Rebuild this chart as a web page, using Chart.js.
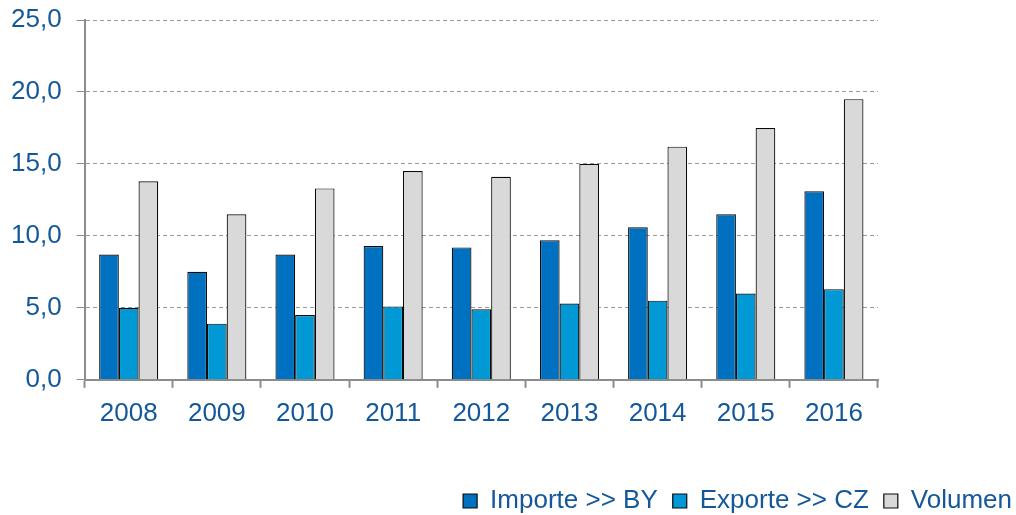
<!DOCTYPE html>
<html>
<head>
<meta charset="utf-8">
<script src="https://cdn.jsdelivr.net/npm/chart.js@4"></script>
<style>
  html, body { margin: 0; padding: 0; background: #ffffff; }
  #wrap { width: 1016px; height: 515px; }
</style>
</head>
<body>
<div id="wrap"><canvas id="c" width="1016" height="515"></canvas></div>
<script>
const categories = ['2008', '2009', '2010', '2011', '2012', '2013', '2014', '2015', '2016'];
const importe = [8.7, 7.5, 8.7, 9.3, 9.2, 9.7, 10.6, 11.5, 13.1];
const exporte = [5.0, 3.9, 4.5, 5.1, 4.9, 5.3, 5.5, 6.0, 6.3];
const volumen = [13.8, 11.5, 13.3, 14.5, 14.1, 15.0, 16.2, 17.5, 19.5];
const seriesNames = ['Importe >> BY', 'Exporte >> CZ', 'Volumen'];
const yTicks = [0, 5, 10, 15, 20, 25];

const textColor = '#14589a';
const font = { family: '"Liberation Sans", Arial, sans-serif', size: 26 };

new Chart(document.getElementById('c'), {
  type: 'bar',
  data: {
    labels: categories,
    datasets: [
      { label: seriesNames[0], data: importe, backgroundColor: '#0070c0', borderColor: '#0a0a0a', borderWidth: 1.2 },
      { label: seriesNames[1], data: exporte, backgroundColor: '#0099d6', borderColor: '#0a0a0a', borderWidth: 1.2 },
      { label: seriesNames[2], data: volumen, backgroundColor: '#d9d9d9', borderColor: '#0a0a0a', borderWidth: 1.2 }
    ]
  },
  options: {
    responsive: false,
    animation: false,
    devicePixelRatio: 1,
    layout: { padding: { top: 20, left: -4, right: -11, bottom: -9 } },
    datasets: { bar: { categoryPercentage: 0.67, barPercentage: 1.0 } },
    plugins: {
      legend: {
        position: 'bottom',
        align: 'end',
        labels: {
          color: textColor,
          font: font,
          boxWidth: 14,
          boxHeight: 14,
          padding: 15
        }
      },
      tooltip: { enabled: false }
    },
    scales: {
      x: {
        offset: true,
        grid: {
          offset: true,
          drawOnChartArea: false,
          drawTicks: true,
          tickLength: 8,
          tickColor: '#8c8c8c',
          tickWidth: 2
        },
        border: { display: true, color: '#8c8c8c', width: 2 },
        ticks: { color: textColor, font: font, padding: 10 },
        afterFit(scale) { scale.height += 34; }
      },
      y: {
        min: 0,
        max: 25,
        afterBuildTicks(scale) { scale.ticks = yTicks.map(v => ({ value: v })); },
        afterFit(scale) { scale.paddingTop = 0; },
        grid: {
          color: '#9a9a9a',
          lineWidth: 1,
          drawTicks: true,
          tickLength: 8,
          tickColor: '#8c8c8c',
          tickWidth: 1,
          tickBorderDash: []
        },
        border: { display: true, color: '#8c8c8c', width: 2, dash: [4, 3] },
        ticks: {
          color: textColor,
          font: font,
          padding: 15,
          callback: (v) => Number(v).toFixed(1).replace('.', ',')
        }
      },
      yRight: {
        position: 'right',
        display: true,
        grid: { display: false, drawOnChartArea: false },
        border: { display: false },
        ticks: { display: false },
        afterFit(scale) { scale.width = 149; scale.paddingTop = 0; }
      }
    }
  }
});
</script>
</body>
</html>
